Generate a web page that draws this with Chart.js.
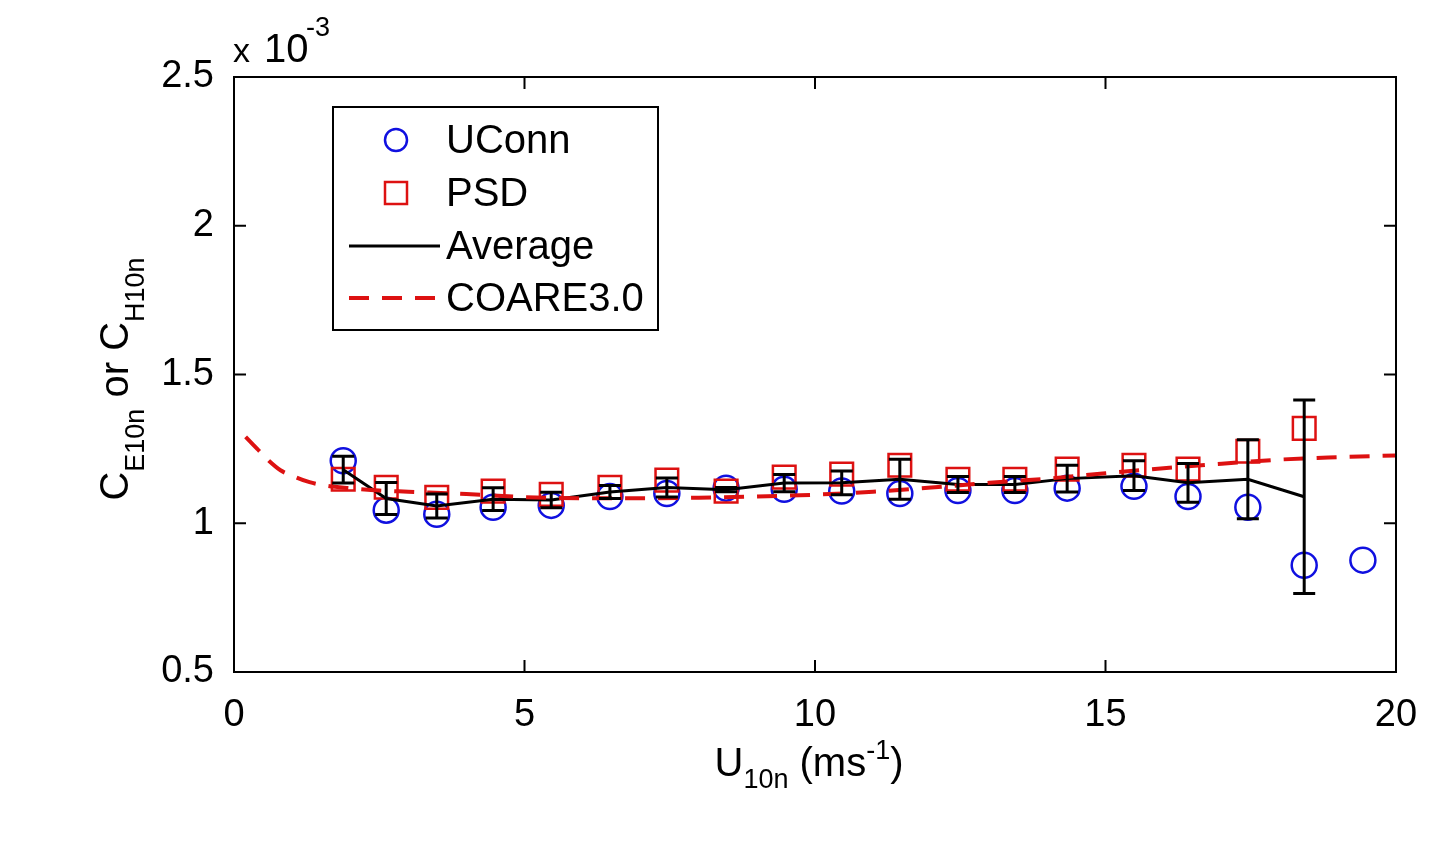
<!DOCTYPE html>
<html>
<head>
<meta charset="utf-8">
<title>Exchange coefficients</title>
<script src="https://cdn.jsdelivr.net/npm/chart.js@4/dist/chart.umd.min.js"></script>
<style>
  html, body { margin: 0; padding: 0; background: #fff; }
  #wrap { width: 1432px; height: 848px; }
</style>
</head>
<body>
<div id="wrap"><canvas id="chart" width="1432" height="848"></canvas></div>
<script>
const FONT = '"Liberation Sans", Arial, Helvetica, sans-serif';

// values are in units of 1e-3
const uconnX = [1.88, 2.62, 3.49, 4.46, 5.46, 6.47, 7.45, 8.47, 9.47, 10.46, 11.46, 12.46, 13.44, 14.34, 15.49, 16.42, 17.45, 18.42, 19.43];
const uconnY = [1.21, 1.044, 1.03, 1.054, 1.06, 1.09, 1.10, 1.118, 1.114, 1.108, 1.10, 1.11, 1.11, 1.118, 1.124, 1.09, 1.054, 0.859, 0.876];

const psdX = [1.88, 2.62, 3.49, 4.46, 5.46, 6.47, 7.45, 8.47, 9.47, 10.46, 11.46, 12.46, 13.44, 14.34, 15.49, 16.42, 17.45, 18.42];
const psdY = [1.148, 1.121, 1.087, 1.108, 1.097, 1.121, 1.145, 1.108, 1.155, 1.165, 1.195, 1.148, 1.148, 1.182, 1.195, 1.182, 1.242, 1.319];

const avgX = [1.88, 2.62, 3.49, 4.46, 5.46, 6.47, 7.45, 8.47, 9.47, 10.46, 11.46, 12.46, 13.44, 14.34, 15.49, 16.42, 17.45, 18.42];
const avgY = [1.18, 1.083, 1.058, 1.081, 1.078, 1.105, 1.12, 1.113, 1.135, 1.136, 1.148, 1.13, 1.13, 1.15, 1.16, 1.136, 1.148, 1.089];
const avgErr = [0.045, 0.054, 0.04, 0.038, 0.026, 0.022, 0.032, 0.007, 0.029, 0.04, 0.067, 0.027, 0.027, 0.045, 0.05, 0.065, 0.133, 0.325];

const coareX = [0.2, 0.4, 0.6, 0.8, 1.0, 1.3, 1.6, 2, 2.5, 3, 4, 5, 6, 7, 8, 9, 10, 11, 12, 13, 14, 15, 16, 17, 18, 19, 20];
const coareY = [1.29, 1.25, 1.21, 1.178, 1.16, 1.138, 1.126, 1.118, 1.11, 1.106, 1.098, 1.088, 1.084, 1.084, 1.086, 1.09, 1.096, 1.106, 1.12, 1.136, 1.15, 1.168, 1.185, 1.2, 1.214, 1.222, 1.228];

const xTicks = [0, 5, 10, 15, 20];
const yTicks = [0.5, 1, 1.5, 2, 2.5];

const BLUE = '#1010e0';
const RED = '#dd1111';
const DASH = [20, 13];

function pts(xs, ys) {
  return xs.map((x, i) => ({ x: x, y: ys[i] }));
}

// draws text runs with sub/superscripts centred on cx
function richText(ctx, runs, cx, baseY) {
  let total = 0;
  runs.forEach(r => {
    ctx.font = r.size + 'px ' + FONT;
    r.w = ctx.measureText(r.t).width;
    total += r.w;
  });
  let x = cx - total / 2;
  ctx.textBaseline = 'alphabetic';
  ctx.textAlign = 'left';
  runs.forEach(r => {
    ctx.font = r.size + 'px ' + FONT;
    ctx.fillText(r.t, x, baseY + (r.dy || 0));
    x += r.w;
  });
}

const decorations = {
  id: 'decorations',
  afterDatasetsDraw(chart) {
    const ctx = chart.ctx, xs = chart.scales.x, ys = chart.scales.y;
    ctx.save();
    ctx.strokeStyle = '#000';
    ctx.lineWidth = 3;
    avgX.forEach((v, i) => {
      const px = xs.getPixelForValue(v);
      const top = ys.getPixelForValue(avgY[i] + avgErr[i]);
      const bot = ys.getPixelForValue(avgY[i] - avgErr[i]);
      ctx.beginPath();
      ctx.moveTo(px, top); ctx.lineTo(px, bot);
      ctx.moveTo(px - 11, top); ctx.lineTo(px + 11, top);
      ctx.moveTo(px - 11, bot); ctx.lineTo(px + 11, bot);
      ctx.stroke();
    });
    ctx.restore();
  },
  afterDraw(chart) {
    const ctx = chart.ctx, a = chart.chartArea;
    const xs = chart.scales.x, ys = chart.scales.y;
    ctx.save();
    // axes box with inward ticks
    ctx.strokeStyle = '#000';
    ctx.lineWidth = 2;
    ctx.strokeRect(a.left, a.top, a.right - a.left, a.bottom - a.top);
    ctx.beginPath();
    xTicks.forEach(v => {
      const px = xs.getPixelForValue(v);
      ctx.moveTo(px, a.bottom); ctx.lineTo(px, a.bottom - 12);
      ctx.moveTo(px, a.top); ctx.lineTo(px, a.top + 12);
    });
    yTicks.forEach(v => {
      const py = ys.getPixelForValue(v);
      ctx.moveTo(a.left, py); ctx.lineTo(a.left + 12, py);
      ctx.moveTo(a.right, py); ctx.lineTo(a.right - 12, py);
    });
    ctx.stroke();

    // legend
    const lx = 333, ly = 107, lw = 325, lh = 223;
    ctx.fillStyle = '#fff';
    ctx.fillRect(lx, ly, lw, lh);
    ctx.lineWidth = 2;
    ctx.strokeRect(lx, ly, lw, lh);
    const rows = [140, 193, 246, 298];
    ctx.lineWidth = 2.5;
    ctx.strokeStyle = BLUE;
    ctx.beginPath(); ctx.arc(396, rows[0], 11, 0, Math.PI * 2); ctx.stroke();
    ctx.strokeStyle = RED;
    ctx.strokeRect(385, rows[1] - 11, 22, 22);
    ctx.strokeStyle = '#000';
    ctx.lineWidth = 3;
    ctx.beginPath(); ctx.moveTo(349, rows[2]); ctx.lineTo(440, rows[2]); ctx.stroke();
    ctx.strokeStyle = RED;
    ctx.lineWidth = 4;
    ctx.setLineDash(DASH);
    ctx.beginPath(); ctx.moveTo(349, rows[3]); ctx.lineTo(442, rows[3]); ctx.stroke();
    ctx.setLineDash([]);
    ctx.fillStyle = '#000';
    ctx.font = '40px ' + FONT;
    ctx.textAlign = 'left';
    ctx.textBaseline = 'middle';
    ['UConn', 'PSD', 'Average', 'COARE3.0'].forEach((t, i) => ctx.fillText(t, 446, rows[i] + 2));

    // exponent label
    ctx.textBaseline = 'alphabetic';
    ctx.font = '34px ' + FONT;
    ctx.fillText('x', 233, 62);
    ctx.font = '40px ' + FONT;
    ctx.fillText('10', 264, 62);
    ctx.font = '27px ' + FONT;
    ctx.fillText('-3', 306, 36);

    // x title
    richText(ctx, [
      { t: 'U', size: 40 },
      { t: '10n', size: 27, dy: 12 },
      { t: ' (ms', size: 40 },
      { t: '-1', size: 27, dy: -17 },
      { t: ')', size: 40 }
    ], 809, 776);

    // y title
    ctx.translate(128, 379);
    ctx.rotate(-Math.PI / 2);
    richText(ctx, [
      { t: 'C', size: 40 },
      { t: 'E10n', size: 27, dy: 16 },
      { t: ' or ', size: 40 },
      { t: 'C', size: 40 },
      { t: 'H10n', size: 27, dy: 16 }
    ], 0, 0);
    ctx.restore();
  }
};

new Chart(document.getElementById('chart'), {
  type: 'scatter',
  data: {
    datasets: [
      {
        label: 'UConn',
        data: pts(uconnX, uconnY),
        pointStyle: 'circle',
        pointRadius: 12.5,
        pointBorderWidth: 2.5,
        borderColor: BLUE,
        backgroundColor: 'rgba(0,0,0,0)',
        order: 4
      },
      {
        label: 'PSD',
        data: pts(psdX, psdY),
        pointStyle: 'rect',
        pointRadius: 16,
        pointBorderWidth: 2.5,
        borderColor: RED,
        backgroundColor: 'rgba(0,0,0,0)',
        order: 3
      },
      {
        label: 'Average',
        data: pts(avgX, avgY),
        showLine: true,
        pointRadius: 0,
        borderColor: '#000',
        borderWidth: 3,
        order: 2
      },
      {
        label: 'COARE3.0',
        data: pts(coareX, coareY),
        showLine: true,
        pointRadius: 0,
        borderColor: RED,
        borderWidth: 4,
        borderDash: DASH,
        cubicInterpolationMode: 'monotone',
        order: 1
      }
    ]
  },
  options: {
    responsive: false,
    animation: false,
    devicePixelRatio: 1,
    layout: { padding: { top: 77, right: 36, left: 0, bottom: 0 } },
    plugins: {
      legend: { display: false },
      tooltip: { enabled: false }
    },
    scales: {
      x: {
        type: 'linear',
        min: 0,
        max: 20,
        afterBuildTicks: s => { s.ticks = xTicks.map(v => ({ value: v })); },
        afterFit: s => { s.height = 176; },
        grid: { display: false },
        border: { display: false },
        ticks: {
          color: '#000',
          padding: 13,
          maxRotation: 0,
          font: { family: FONT, size: 38 },
          callback: v => String(v)
        }
      },
      y: {
        type: 'linear',
        min: 0.5,
        max: 2.5,
        afterBuildTicks: s => { s.ticks = yTicks.map(v => ({ value: v })); },
        afterFit: s => { s.width = 234; },
        grid: { display: false },
        border: { display: false },
        ticks: {
          color: '#000',
          padding: 12,
          font: { family: FONT, size: 38 },
          callback: v => String(v)
        }
      }
    }
  },
  plugins: [decorations]
});
</script>
</body>
</html>
